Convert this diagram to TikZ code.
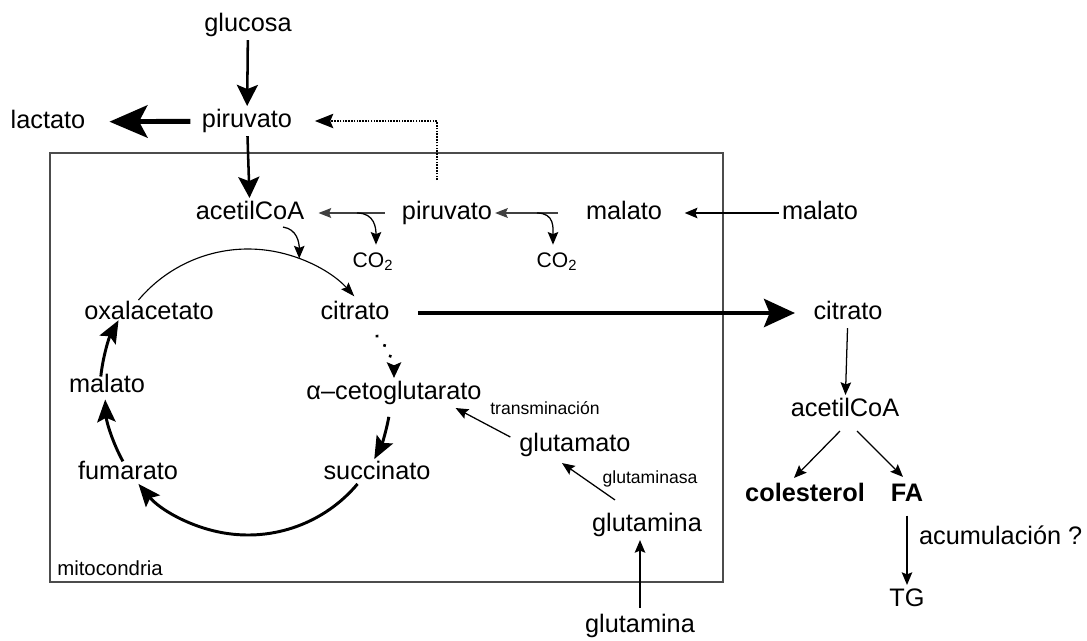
\documentclass[tikz,border=0pt]{standalone}
\usepackage{fontspec}
\setmainfont{Liberation Sans}
\usetikzlibrary{arrows.meta,calc}
\begin{document}
\begin{tikzpicture}[x=0.025cm,y=-0.025cm,
  lbl/.style={font=\fontsize{18}{20}\selectfont, inner sep=2pt, text height=13pt, text depth=4pt},
  lblb/.style={lbl, font=\fontsize{18}{20}\selectfont\bfseries},
  smalllbl/.style={font=\fontsize{12.5}{14}\selectfont, inner sep=1pt},
  colbl/.style={font=\fontsize{15}{16}\selectfont, inner sep=1pt, text height=15pt, text depth=3pt},
  thinarr/.style={line width=0.9pt, -{Stealth[length=9pt,width=7.5pt,inset=1.5pt]}},
  grayarr/.style={line width=0.9pt, draw=black!75, -{Stealth[length=9pt,width=7pt,inset=1.5pt]}},
  medarr/.style={line width=1.8pt, -{Stealth[length=15pt,width=15pt,inset=3pt]}},
  bigarr/.style={line width=3.5pt, -{Stealth[length=27pt,width=23pt,inset=6pt]}},
  exparr/.style={line width=3pt, -{Stealth[length=22pt,width=20pt,inset=4pt]}},
  cycarr/.style={line width=2.1pt, -{Stealth[length=16pt,width=13pt,inset=3pt]}},
  dotarr/.style={line width=2pt, dash pattern=on 1.1pt off 0.9pt, -{Stealth[length=13pt,width=10pt,inset=2pt]}},
  dotsarr/.style={line width=2.6pt, line cap=round, dash pattern=on 0.01pt off 8.6pt, -{Stealth[length=11pt,width=10pt,inset=2pt]}},
  boxline/.style={draw=black!70, line width=0.8pt}
]
\useasboundingbox (0,0) rectangle (1087,640);

% mitochondrion box
\draw[boxline] (50,153) rectangle (723,582);
\node[font=\fontsize{14.5}{16}\selectfont, anchor=west, inner sep=0pt] (mito) at (57,568) {mitocondria};

% nodes
\node[lbl] (glucosa) at (248,25) {glucosa};
\node[lbl] (pyr) at (247,121) {piruvato};
\node[lbl] (lac) at (48,122) {lactato};
\node[lbl] (acoa) at (250,213) {acetilCoA};
\node[lbl] (pyrm) at (447,213) {piruvato};
\node[lbl] (malm) at (624,213) {malato};
\node[lbl] (malo) at (820,213) {malato};
\node[colbl] (co1) at (373,259) {CO\textsubscript{2}};
\node[colbl] (co2) at (557,259) {CO\textsubscript{2}};
\node[lbl] (oaa) at (149,313) {oxalacetato};
\node[lbl] (cit) at (355,313) {citrato};
\node[lbl] (cito) at (848,313) {citrato};
\node[lbl] (malc) at (107,386) {malato};
\node[lbl] (akg) at (394,393) {α–cetoglutarato};
\node[lbl] (fum) at (128,473) {fumarato};
\node[lbl] (suc) at (377,473) {succinato};
\node[lbl] (glu) at (575,445) {glutamato};
\node[lbl] (glnm) at (647,525) {glutamina};
\node[lbl] (glno) at (640,626) {glutamina};
\node[smalllbl] (trans) at (545,408) {transminación};
\node[smalllbl] (gase) at (650,479) {glutaminasa};
\node[lbl] (acoao) at (845,410) {acetilCoA};
\node[lblb] (col) at (805,495) {colesterol};
\node[lblb] (fa) at (907,495) {FA};
\node[lbl] (tg) at (907,600) {TG};
\node[lbl, anchor=west] (acum) at (916,538) {acumulación ?};

% cycle centre
\coordinate (cyc) at (248,392);

% top
\draw[medarr] (glucosa) -- (pyr);
\draw[bigarr, shorten <=6pt, shorten >=15pt] (pyr) -- (lac);
\draw[medarr] (pyr) -- (acoa);
\coordinate (dstart) at (437,180);
\draw[dotarr, shorten >=14pt] (dstart) |- (pyr.east);

% inner pyruvate / malate
\draw[grayarr, shorten <=10pt, shorten >=8pt] (pyrm) -- (acoa);
\coordinate (br1) at (357,213);
\draw[thinarr] (br1) .. controls +(18,0) and +(0,-16) .. ($(co1.north)+(3,0)$);
\draw[grayarr, shorten <=17.7pt] (malm) -- (pyrm);
\coordinate (br2) at (537,213);
\draw[thinarr] (br2) .. controls +(18,0) and +(0,-16) .. ($(co2.north)+(-4,0)$);
\draw[thinarr, shorten >=14pt] (malo) -- (malm);

% cycle
\draw[line width=0.8pt, -{Stealth[length=10pt,width=7pt,inset=1.5pt]}]
  ($(cyc)+(-140:143)$) arc[start angle=-140, end angle=-42, radius=143];
\draw[thinarr] ($(acoa.south)+(33,-1)$) .. controls +(14,2) and +(0,-16) .. ($(cyc)+(-69:143)$);
\draw[dotsarr] ($(cit.south)+(22,8)$) .. controls +(8,6) and +(0,-14) .. (akg.north);
\draw[cycarr] ($(cyc)+(10:143)$) arc[start angle=10, end angle=28, radius=143];
\draw[cycarr] ($(cyc)+(40:143)$) arc[start angle=40, end angle=140, radius=143];
\draw[cycarr] ($(cyc)+(151:143)$) arc[start angle=151, end angle=177, radius=143];
\draw[cycarr] ($(cyc)+(-174:148)$) arc[start angle=-174, end angle=-151, radius=148];

% export
\draw[exparr, shorten <=18pt, shorten >=11pt] (cit) -- (cito);

% glutamine
\draw[thinarr] ($(glu.west)+(-6,-8)$) -- ($(akg.south east)+(-29,0)$);
\draw[thinarr] ($(glnm.north)+(-32,-10)$) -- ($(glu.south)+(-13,3)$);
\draw[thinarr] ($(glno.north)+(0,-3)$) -- (glno.north |- glnm.south);

% cytosol lipid synthesis
\draw[thinarr] (cito) -- (acoao);
\draw[thinarr] ($(acoao.south)+(-5,6)$) -- ($(col.north)+(-11,-2)$);
\draw[thinarr] ($(acoao.south)+(12,6)$) -- ($(fa.north)+(-4,-3)$);
\draw[thinarr, shorten <=4pt] (fa) -- (tg);
\end{tikzpicture}
\end{document}
